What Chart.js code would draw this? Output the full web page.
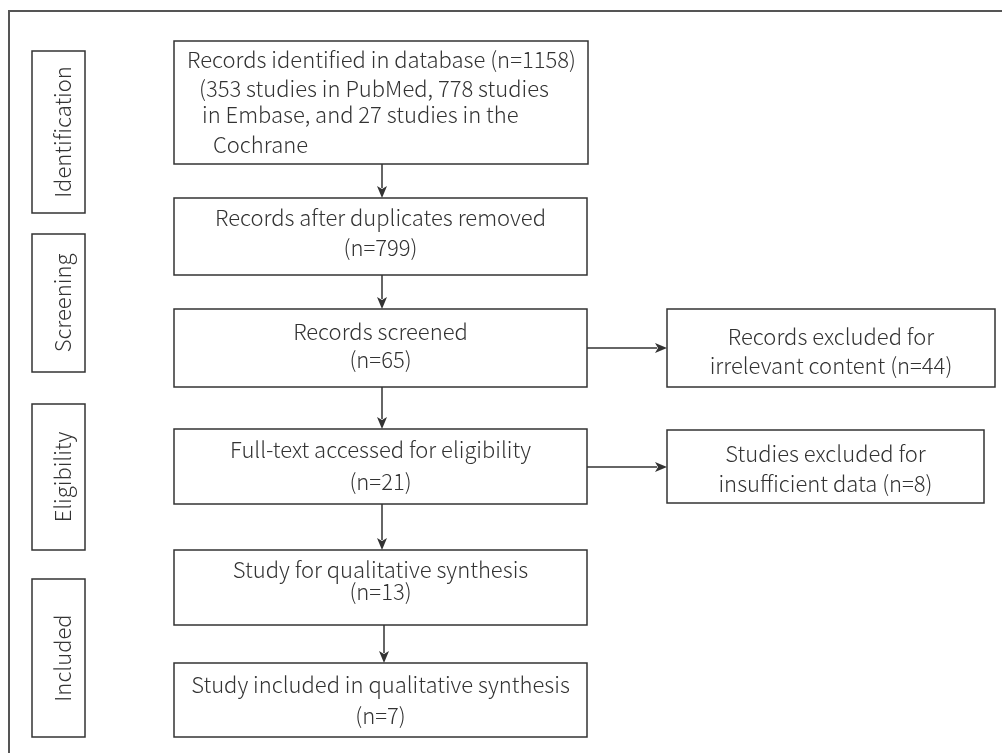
<!DOCTYPE html>
<html lang="en">
<head>
  <meta charset="UTF-8">
  <title>PRISMA flow diagram</title>
  <script src="https://cdn.jsdelivr.net/npm/chart.js"></script>
  <style>
    html, body { margin: 0; padding: 0; background: #fff; }
    #flow { display: block; }
  </style>
</head>
<body>
<canvas id="flow" width="1002" height="753"></canvas>

<script>
  // Flow data
  const stageLabels = ['Identification', 'Screening', 'Eligibility', 'Included'];
  const stepCounts = [1158, 799, 65, 21, 13, 7];
  const stepLines = [
    ['Records identified in database (n=' + stepCounts[0] + ')',
     '(353 studies in PubMed, 778 studies',
     'in Embase, and 27 studies in the',
     'Cochrane'],
    ['Records after duplicates removed', '(n=' + stepCounts[1] + ')'],
    ['Records screened', '(n=' + stepCounts[2] + ')'],
    ['Full-text accessed for eligibility', '(n=' + stepCounts[3] + ')'],
    ['Study for qualitative synthesis', '(n=' + stepCounts[4] + ')'],
    ['Study included in qualitative synthesis', '(n=' + stepCounts[5] + ')']
  ];
  const excludedCounts = [44, 8];
  const excludedLines = [
    ['Records excluded for', 'irrelevant content (n=' + excludedCounts[0] + ')'],
    ['Studies excluded for', 'insufficient data (n=' + excludedCounts[1] + ')']
  ];
  // which main step each exclusion branches from
  const excludedFrom = [2, 3];

  // Layout in chart units (x: 0..1002, y: 0..753, y down)
  const stageBoxes = [[32, 51, 85, 213], [32, 234, 85, 372], [32, 404, 85, 550], [32, 579, 85, 737]];
  const stepBoxes = [[174, 41, 588, 164], [174, 198, 587, 275], [174, 309, 587, 387],
                     [174, 429, 587, 504], [174, 550, 587, 625], [174, 663, 587, 737]];
  const excludedBoxes = [[667, 309, 995, 387], [667, 430, 984, 503]];
  // text baselines per box line; box 0 is left aligned with its own x per line
  const stepBaselines = [[68, 97, 123, 153], [226, 256], [340, 368], [458, 490], [578, 600], [693, 724]];
  const firstBoxX = [187, 199, 202, 213];
  const excludedBaselines = [[345, 374], [462, 492]];
  const arrowX = [382, 382, 382, 382, 384];
  const branchY = [348, 467];

  const FONT = '300 22px "Noto Sans CJK SC", "Noto Sans", sans-serif';
  const INK = '#333';

  const flowPlugin = {
    id: 'flow',
    afterDraw(chart) {
      const ctx = chart.ctx;
      const sx = chart.scales.x, sy = chart.scales.y;
      const px = v => sx.getPixelForValue(v);
      const py = v => sy.getPixelForValue(v);

      ctx.save();
      ctx.strokeStyle = INK;
      ctx.fillStyle = INK;
      ctx.lineWidth = 1.5;

      // frame (top and left only)
      ctx.beginPath();
      ctx.strokeStyle = '#555';
      ctx.lineWidth = 2;
      ctx.moveTo(px(1002), py(11));
      ctx.lineTo(px(9), py(11));
      ctx.lineTo(px(9), py(753));
      ctx.stroke();
      ctx.strokeStyle = INK;
      ctx.lineWidth = 1.5;

      const box = b => {
        ctx.strokeRect(px(b[0]), py(b[1]), px(b[2]) - px(b[0]), py(b[3]) - py(b[1]));
      };

      const arrowDown = (x, y0, y1) => {
        ctx.beginPath();
        ctx.moveTo(px(x), py(y0));
        ctx.lineTo(px(x), py(y1) - 10);
        ctx.stroke();
        ctx.beginPath();
        ctx.moveTo(px(x), py(y1));
        ctx.lineTo(px(x) - 5, py(y1) - 12);
        ctx.lineTo(px(x), py(y1) - 9);
        ctx.lineTo(px(x) + 5, py(y1) - 12);
        ctx.closePath();
        ctx.fill();
      };

      const arrowRight = (y, x0, x1) => {
        ctx.beginPath();
        ctx.moveTo(px(x0), py(y));
        ctx.lineTo(px(x1) - 10, py(y));
        ctx.stroke();
        ctx.beginPath();
        ctx.moveTo(px(x1), py(y));
        ctx.lineTo(px(x1) - 12, py(y) - 5);
        ctx.lineTo(px(x1) - 9, py(y));
        ctx.lineTo(px(x1) - 12, py(y) + 5);
        ctx.closePath();
        ctx.fill();
      };

      ctx.font = FONT;
      ctx.textBaseline = 'alphabetic';

      // stage boxes with rotated labels
      stageBoxes.forEach((b, i) => {
        box(b);
        ctx.save();
        ctx.translate(px(b[2]) - 14, (py(b[1]) + py(b[3])) / 2);
        ctx.rotate(-Math.PI / 2);
        ctx.textAlign = 'center';
        ctx.fillText(stageLabels[i], 0, 0);
        ctx.restore();
      });

      // main steps
      stepBoxes.forEach((b, i) => {
        box(b);
        stepLines[i].forEach((line, j) => {
          if (i === 0) {
            ctx.textAlign = 'left';
            ctx.fillText(line, px(firstBoxX[j]), py(stepBaselines[i][j]));
          } else {
            ctx.textAlign = 'center';
            ctx.fillText(line, (px(b[0]) + px(b[2])) / 2, py(stepBaselines[i][j]));
          }
        });
        if (i < stepBoxes.length - 1) {
          arrowDown(arrowX[i], b[3], stepBoxes[i + 1][1]);
        }
      });

      // exclusions
      excludedBoxes.forEach((b, i) => {
        box(b);
        ctx.textAlign = 'center';
        excludedLines[i].forEach((line, j) => {
          ctx.fillText(line, (px(b[0]) + px(b[2])) / 2, py(excludedBaselines[i][j]));
        });
        arrowRight(branchY[i], stepBoxes[excludedFrom[i]][2], b[0]);
      });

      ctx.restore();
    }
  };

  new Chart(document.getElementById('flow').getContext('2d'), {
    type: 'scatter',
    data: { datasets: [{ data: [], pointRadius: 0 }] },
    options: {
      responsive: false,
      animation: false,
      devicePixelRatio: 1,
      layout: { padding: 0 },
      plugins: { legend: { display: false }, tooltip: { enabled: false } },
      scales: {
        x: { type: 'linear', min: 0, max: 1002, display: false },
        y: { type: 'linear', min: 0, max: 753, reverse: true, display: false }
      }
    },
    plugins: [flowPlugin]
  });
</script>
</body>
</html>
